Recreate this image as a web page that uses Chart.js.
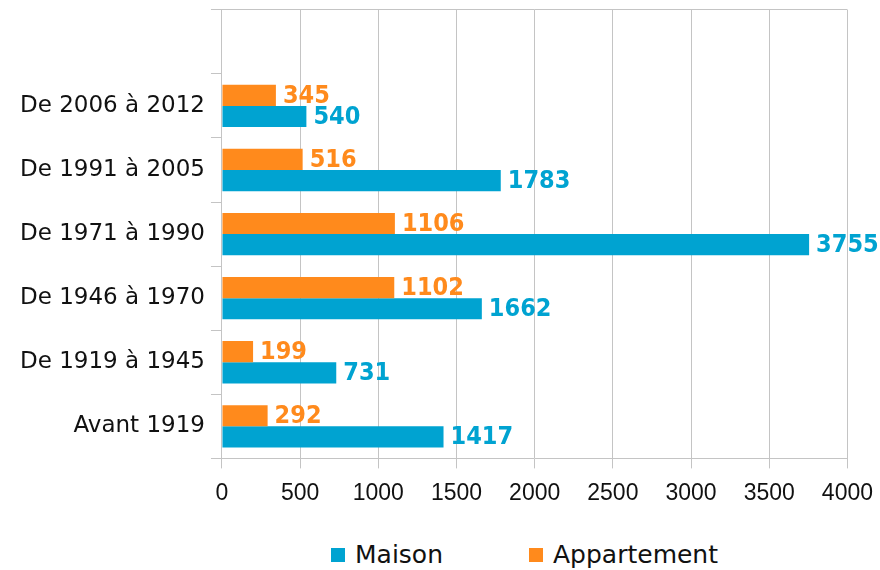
<!DOCTYPE html>
<html>
<head>
<meta charset="utf-8">
<title>Logements par période de construction</title>
<style>
  body { margin: 0; background: #fff; }
  .wrap { position: relative; width: 880px; height: 570px; overflow: hidden; }
  .graph { position: absolute; left: 0; top: -10px; width: 884px; height: 528px; }
  /* légende en HTML sous le graphique */
  .legende {
    position: absolute; left: 331px; top: 540px;
    display: flex; align-items: center;
    font-family: "DejaVu Sans", sans-serif; font-size: 25px; color: #111;
  }
  .legende span.item { display: flex; align-items: center; margin-right: 86px; }
  .legende span.carre { display: inline-block; width: 14px; height: 14px; margin-right: 10px; }
</style>
</head>
<body>
<div class="wrap">
  <div class="graph"><canvas id="chart"></canvas></div>
  <div class="legende" id="legende"></div>
</div>
<script src="https://cdn.jsdelivr.net/npm/chart.js"></script>
<script>
// données (de haut en bas, la première ligne est vide)
const periodes = ['', 'De 2006 à 2012', 'De 1991 à 2005', 'De 1971 à 1990', 'De 1946 à 1970', 'De 1919 à 1945', 'Avant 1919'];
const maison = [null, 540, 1783, 3755, 1662, 731, 1417];
const appartement = [null, 345, 516, 1106, 1102, 199, 292];
const xTicks = [0, 500, 1000, 1500, 2000, 2500, 3000, 3500, 4000];

const bleu = '#00a3d1';
const orange = '#ff8a1c';
const gris = '#c4c4c4';

// étiquettes de valeur au bout des barres
const valeurs = {
  id: 'valeurs',
  afterDatasetsDraw(chart) {
    const ctx = chart.ctx;
    ctx.save();
    ctx.font = 'bold 25px "DejaVu Sans Condensed", "DejaVu Sans"';
    ctx.textBaseline = 'middle';
    ctx.textAlign = 'left';
    chart.data.datasets.forEach((ds, i) => {
      const meta = chart.getDatasetMeta(i);
      if (meta.hidden) return;
      ctx.fillStyle = ds.backgroundColor;
      meta.data.forEach((bar, j) => {
        const v = ds.data[j];
        if (v == null) return;
        ctx.fillText(String(v), bar.x + 7, bar.y + 1);
      });
    });
    ctx.restore();
  }
};

const chart = new Chart(document.getElementById('chart'), {
  type: 'bar',
  data: {
    labels: periodes,
    datasets: [
      { label: 'Appartement', data: appartement, backgroundColor: orange },
      { label: 'Maison', data: maison, backgroundColor: bleu }
    ]
  },
  options: {
    indexAxis: 'y',
    responsive: true,
    maintainAspectRatio: false,
    animation: false,
    categoryPercentage: 0.66,
    barPercentage: 1.0,
    layout: { padding: { left: 14, right: 5, top: 0, bottom: 0 } },
    plugins: {
      tooltip: { enabled: false },
      legend: { display: false }
    },
    scales: {
      x: {
        min: 0,
        max: 4000,
        afterBuildTicks: (axis) => { axis.ticks = xTicks.map(v => ({ value: v })); },
        grid: { color: gris, tickLength: 10, lineWidth: 1 },
        border: { color: gris },
        ticks: {
          color: '#111',
          padding: 11,
          font: { family: 'Liberation Sans', size: 23 },
          callback: (v) => String(v)
        }
      },
      y: {
        grid: {
          offset: true,
          color: (c) => c.index === 0 ? gris : 'rgba(0,0,0,0)',
          tickColor: gris,
          tickLength: 11
        },
        border: { color: gris },
        ticks: {
          color: '#111',
          padding: 6,
          font: { family: 'DejaVu Sans', size: 23 }
        }
      }
    }
  },
  plugins: [valeurs]
});

// légende : Maison puis Appartement
const legende = document.getElementById('legende');
chart.data.datasets.slice().reverse().forEach(ds => {
  const item = document.createElement('span');
  item.className = 'item';
  const carre = document.createElement('span');
  carre.className = 'carre';
  carre.style.background = ds.backgroundColor;
  item.appendChild(carre);
  item.appendChild(document.createTextNode(ds.label));
  legende.appendChild(item);
});
</script>
</body>
</html>
